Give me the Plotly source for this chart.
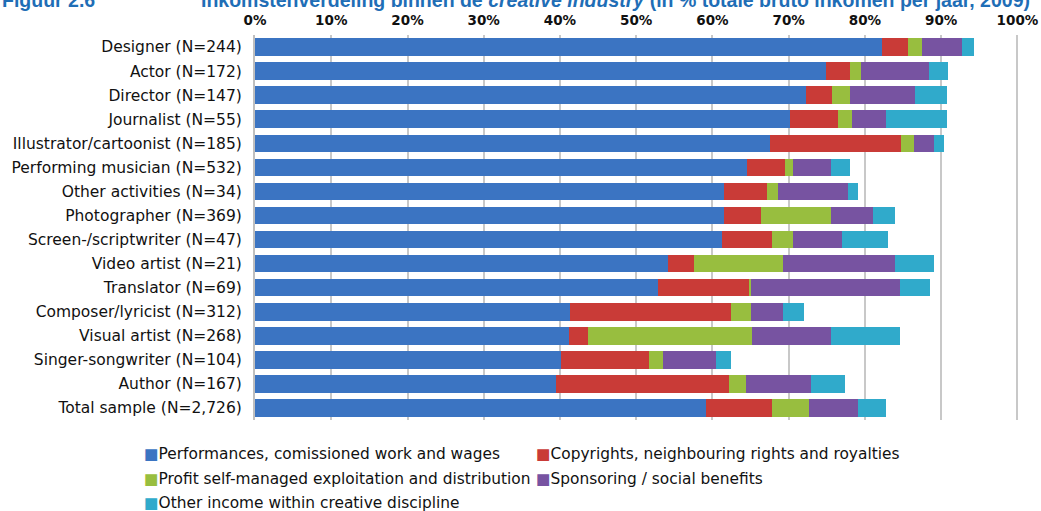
import plotly.graph_objects as go

categories = [
    "Designer (N=244)", "Actor (N=172)", "Director (N=147)", "Journalist (N=55)",
    "Illustrator/cartoonist (N=185)", "Performing musician (N=532)",
    "Other activities (N=34)", "Photographer (N=369)", "Screen-/scriptwriter (N=47)",
    "Video artist (N=21)", "Translator (N=69)", "Composer/lyricist (N=312)",
    "Visual artist (N=268)", "Singer-songwriter (N=104)", "Author (N=167)",
    "Total sample (N=2,726)",
]

performances = [82.2, 74.9, 72.3, 70.2, 67.5, 64.5, 61.5, 61.5, 61.3, 54.2, 52.9, 41.3, 41.2, 40.1, 39.5, 59.2]
copyrights   = [3.4, 3.1, 3.4, 6.2, 17.2, 5.0, 5.7, 4.9, 6.5, 3.4, 12.0, 21.1, 2.5, 11.6, 22.7, 8.6]
profit       = [1.9, 1.5, 2.4, 1.9, 1.7, 1.1, 1.4, 9.1, 2.7, 11.6, 0.2, 2.7, 21.5, 1.8, 2.2, 4.8]
sponsoring   = [5.2, 8.9, 8.5, 4.4, 2.7, 5.0, 9.2, 5.5, 6.5, 14.8, 19.5, 4.1, 10.3, 7.0, 8.5, 6.5]
other        = [1.6, 2.5, 4.2, 8.1, 1.3, 2.4, 1.3, 2.9, 6.0, 5.0, 3.9, 2.8, 9.1, 1.9, 4.5, 3.6]

series_names = [
    "Performances, comissioned work and wages",
    "Copyrights, neighbouring rights and royalties",
    "Profit self-managed exploitation and distribution",
    "Sponsoring / social benefits",
    "Other income within creative discipline",
]
series_values = [performances, copyrights, profit, sponsoring, other]
colors = ["#3B74C2", "#C93B37", "#98BE3F", "#7753A1", "#30AACB"]

tick_vals = [0, 10, 20, 30, 40, 50, 60, 70, 80, 90, 100]
tick_text = ["0%", "10%", "20%", "30%", "40%", "50%", "60%", "70%", "80%", "90%", "100%"]

BODY = "DejaVu Sans, Verdana, sans-serif"
TITLE = "Liberation Sans, Arial, sans-serif"
W, H = 1041, 511
L, R, T, B = 255, 22, 35, 91
PW, PH = W - L - R, H - T - B

def lx(px):
    return (px - L) / PW

def ly(py):
    return (T + PH - py) / PH

fig = go.Figure()
for name, vals, col in zip(series_names, series_values, colors):
    fig.add_trace(go.Bar(
        y=categories, x=vals, name=name, orientation="h",
        marker=dict(color=col, line=dict(width=0)),
        showlegend=False,
    ))

# legend: one single-entry legend per item, laid out as a 2-column grid
legend_ids = ["legend", "legend2", "legend3", "legend4", "legend5"]
col_x = [104, 496, 104, 496, 104]
row_y = [453, 453, 478, 478, 502]
for name, col, lg in zip(series_names, colors, legend_ids):
    fig.add_trace(go.Scatter(
        x=[None], y=[None], mode="markers",
        marker=dict(size=0.01, opacity=0, color="rgba(0,0,0,0)",
                    line=dict(width=0, color="rgba(0,0,0,0)")),
        name=f'<span style="color:{col}">■</span>{name}',
        legend=lg, showlegend=True, hoverinfo="skip",
    ))

legend_layout = {}
for lg, cx, ry in zip(legend_ids, col_x, row_y):
    legend_layout[lg] = dict(
        orientation="h", xref="container", yref="container",
        x=cx / W, y=1 - ry / H, xanchor="left", yanchor="middle",
        font=dict(family=BODY, size=15.4, color="#111111"),
        itemwidth=30, bgcolor="rgba(0,0,0,0)",
    )

fig.update_layout(
    width=W, height=H,
    barmode="stack", bargap=0.27,
    plot_bgcolor="white", paper_bgcolor="white",
    margin=dict(l=L, r=R, t=T, b=B, pad=0, autoexpand=False),
    font=dict(family=BODY, size=15.5, color="#111111"),
    xaxis=dict(
        side="top", range=[0, 100.2], tickvals=tick_vals, ticktext=tick_text,
        showgrid=True, gridcolor="#C8C8C8", gridwidth=2,
        ticks="", ticklabelstandoff=6,
        zeroline=False, showline=False, automargin=False,
        tickfont=dict(family=BODY, size=13.5, color="#111111", weight="bold"),
        fixedrange=True,
    ),
    yaxis=dict(
        categoryorder="array", categoryarray=categories, autorange="reversed",
        showline=True, linecolor="#BFBFBF", linewidth=2,
        ticks="", ticklabelstandoff=8, showgrid=False, automargin=False,
        tickfont=dict(family=BODY, size=15.5, color="#111111"),
    ),
    showlegend=True,
    **legend_layout,
)

fig.add_annotation(
    text="<b>Figuur 2.6</b>", xref="paper", yref="paper",
    x=lx(0), y=ly(0.5), xanchor="left", yanchor="middle", showarrow=False,
    font=dict(family=TITLE, size=19.5, color="#1F6EB6"),
)
fig.add_annotation(
    text="<b>Inkomstenverdeling binnen de <i>creative industry</i> (in % totale bruto inkomen per jaar, 2009)</b>",
    xref="paper", yref="paper",
    x=lx(199), y=ly(0.5), xanchor="left", yanchor="middle", showarrow=False,
    font=dict(family=TITLE, size=19.5, color="#1F6EB6"),
)

# remove the default 8px page margin so the figure sits at the window's top-left corner
fig.write_html(
    "out.html",
    config={"displayModeBar": False},
    post_script="document.body.style.margin='0';",
)
